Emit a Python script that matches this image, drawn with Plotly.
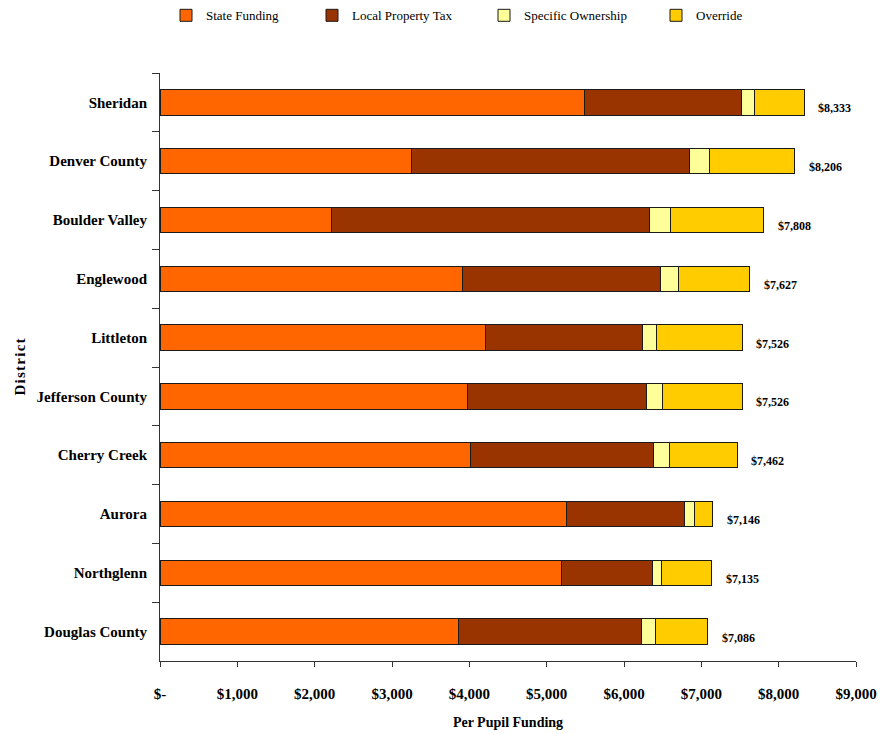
import plotly.graph_objects as go

districts = ["Sheridan", "Denver County", "Boulder Valley", "Englewood", "Littleton",
             "Jefferson County", "Cherry Creek", "Aurora", "Northglenn", "Douglas County"]
state_funding = [5489, 3251, 2217, 3916, 4213, 3976, 4010, 5261, 5197, 3855]
local_property_tax = [2036, 3597, 4118, 2561, 2031, 2320, 2377, 1527, 1177, 2368]
specific_ownership = [163, 263, 272, 228, 181, 202, 207, 124, 116, 190]
override = [645, 1095, 1201, 922, 1101, 1028, 868, 234, 645, 673]
totals = [8333, 8206, 7808, 7627, 7526, 7526, 7462, 7146, 7135, 7086]
total_labels = ["$8,333", "$8,206", "$7,808", "$7,627", "$7,526", "$7,526",
                "$7,462", "$7,146", "$7,135", "$7,086"]
tick_vals = [0, 1000, 2000, 3000, 4000, 5000, 6000, 7000, 8000, 9000]
tick_text = ["$-", "$1,000", "$2,000", "$3,000", "$4,000", "$5,000",
             "$6,000", "$7,000", "$8,000", "$9,000"]

series = [
    ("State Funding", state_funding, "#FF6600"),
    ("Local Property Tax", local_property_tax, "#993300"),
    ("Specific Ownership", specific_ownership, "#FFFF99"),
    ("Override", override, "#FFCC00"),
]
legend_ids = ["legend", "legend2", "legend3", "legend4"]
legend_x = [166, 312, 484, 656]

FONT = "Liberation Serif"
fig = go.Figure()
for (name, vals, color), lid in zip(series, legend_ids):
    fig.add_trace(go.Bar(
        name=name, y=districts, x=vals, orientation="h", legend=lid,
        marker=dict(color=color, line=dict(color="#1a1a1a", width=1)),
    ))

for d, t, lab in zip(districts, totals, total_labels):
    fig.add_annotation(x=t, y=d, text="<b>" + lab + "</b>", showarrow=False,
                       xanchor="left", yanchor="middle", xshift=12, yshift=-6,
                       font=dict(family=FONT, size=12, color="black"))

legend_common = dict(orientation="h", xref="container", yref="container",
                     xanchor="left", y=0.9995, yanchor="top",
                     font=dict(family=FONT, size=13, color="black"),
                     bgcolor="rgba(0,0,0,0)")
layout_legends = {}
for lid, lx in zip(legend_ids, legend_x):
    layout_legends[lid] = dict(legend_common, x=lx / 880)

fig.update_layout(
    width=880, height=734,
    barmode="stack", bargap=0.57,
    plot_bgcolor="white", paper_bgcolor="white",
    margin=dict(l=160, r=24, t=73, b=73, autoexpand=False),
    font=dict(family=FONT, color="black"),
    showlegend=True,
    **layout_legends,
)
fig.update_xaxes(range=[0, 9000], tickvals=tick_vals, ticktext=tick_text,
                 showline=True, linecolor="#333333", linewidth=1,
                 ticks="outside", ticklen=5, tickcolor="#333333",
                 showgrid=False, zeroline=False, ticklabelstandoff=14, automargin=False,
                 tickfont=dict(family=FONT, size=15, weight="bold"),
                 title=dict(text="<b>Per Pupil Funding</b>", font=dict(family=FONT, size=14), standoff=16))
fig.update_yaxes(categoryorder="array", categoryarray=districts, autorange="reversed",
                 showline=True, linecolor="#333333", linewidth=1,
                 ticks="outside", ticklen=7, tickcolor="#333333", tickson="boundaries",
                 showgrid=False, ticklabelstandoff=9, automargin=False,
                 tickfont=dict(family=FONT, size=15, weight="bold"),
                 title=dict(text="<b>D\u200ai\u200as\u200at\u200ar\u200ai\u200ac\u200at</b>",
                            font=dict(family=FONT, size=15), standoff=7))

fig.write_html("out.html")
